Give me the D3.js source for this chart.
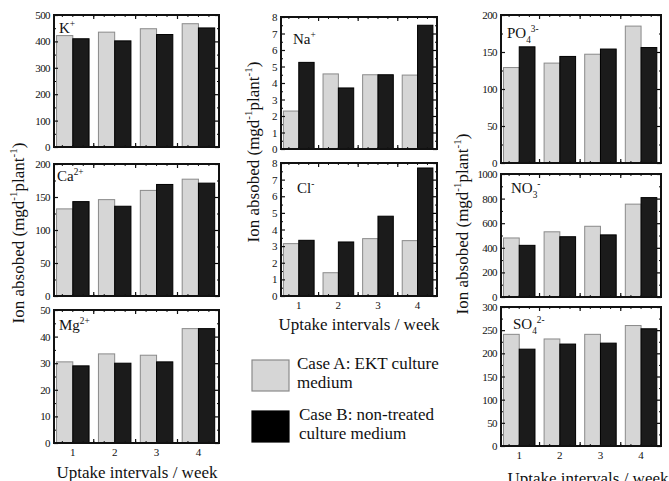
<!DOCTYPE html>
<html><head><meta charset="utf-8">
<script src="https://cdn.jsdelivr.net/npm/d3@7"></script>
<style>body{margin:0;background:#fff}svg{display:block}text{font-family:"Liberation Serif","Times New Roman",serif !important;fill:#111}</style>
</head><body>
<script>
const categories = ["1","2","3","4"];
const kA = [422, 435, 448, 467], kB = [410, 402, 426, 451];
const caA = [132, 146, 160, 177], caB = [143, 136, 169, 171];
const mgA = [30.5, 33.5, 33, 43], mgB = [29, 30, 30.5, 43];
const naA = [2.3, 4.55, 4.5, 4.48], naB = [5.25, 3.7, 4.5, 7.5];
const clA = [3.15, 1.4, 3.45, 3.33], clB = [3.35, 3.25, 4.8, 7.7];
const po4A = [129, 135, 147, 185], po4B = [157, 144, 154, 156];
const no3A = [480, 530, 575, 755], no3B = [420, 490, 505, 808];
const so4A = [241, 231, 241, 260], so4B = [209, 220, 222, 253];
const kTicks = [0,100,200,300,400,500];
const caTicks = [0,50,100,150,200];
const mgTicks = [0,10,20,30,40,50];
const naTicks = [0,1,2,3,4,5,6,7,8];
const po4Ticks = [0,50,100,150,200];
const no3Ticks = [0,200,400,600,800,1000];
const so4Ticks = [0,50,100,150,200,250,300];
const legendLabels = [["Case A: EKT culture","medium"],["Case B: non-treated","culture medium"]];
const xTitle = "Uptake intervals / week";

const W = 669, H = 481;
const svg = d3.select("body").append("svg").attr("width", W).attr("height", H);
svg.append("rect").attr("width", W).attr("height", H).attr("fill", "#fff");
const colA = "#d6d6d6", strokeA = "#8a8a8a", colB = "#1b1b1b";

function richText(sel, parts, size) {
  parts.forEach(([t, ty]) => {
    const ts = sel.append("tspan").text(t);
    if (ty === "sup") ts.attr("font-size", size * 0.62).attr("dy", -size * 0.38);
    else if (ty === "sub") ts.attr("font-size", size * 0.62).attr("dy", size * 0.3);
    else if (ty === "supAfterSub") ts.attr("font-size", size * 0.62).attr("dy", -size * 0.68);
  });
}

function panel(cfg) {
  const {x0, x1, y0, y1, A, B, max, ticks, minor, label, lx, ly, showX, xly} = cfg;
  const g = svg.append("g");
  const x = d3.scaleBand().domain(categories).range([x0, x1]).paddingInner(0.2).paddingOuter(0.07).align(0.35);
  const y = d3.scaleLinear().domain([0, max]).range([y1, y0]);
  const bw = x.bandwidth() / 2;
  g.selectAll(".a").data(A).join("rect")
    .attr("x", (d, i) => x(categories[i]) + 0.5).attr("y", d => y(d))
    .attr("width", bw - 0.5).attr("height", d => y(0) - y(d))
    .attr("fill", colA).attr("stroke", strokeA).attr("stroke-width", 1);
  g.selectAll(".b").data(B).join("rect")
    .attr("x", (d, i) => x(categories[i]) + bw).attr("y", d => y(d))
    .attr("width", bw - 0.5).attr("height", d => y(0) - y(d))
    .attr("fill", colB).attr("stroke", "#000").attr("stroke-width", 1);
  const minorVals = [];
  for (let i = 0; i < ticks.length - 1; i++) {
    const step = (ticks[i+1] - ticks[i]) / minor;
    for (let k = 1; k < minor; k++) minorVals.push(ticks[i] + k * step);
  }
  const yl = d3.axisLeft(y).tickValues(ticks).tickSize(-4).tickPadding(4).tickFormat(d3.format("d"));
  const ga = g.append("g").attr("transform", `translate(${x0},0)`).call(yl);
  ga.attr("font-family", null);
  ga.select(".domain").remove();
  ga.selectAll("text").attr("font-size", 11).attr("letter-spacing", -0.6);
  ga.selectAll("line").attr("stroke", "#111").attr("stroke-width", 1.2);
  const gm = g.append("g").attr("transform", `translate(${x0},0)`).call(d3.axisLeft(y).tickValues(minorVals).tickSize(-2).tickFormat(""));
  gm.select(".domain").remove();
  const gr = g.append("g").attr("transform", `translate(${x1},0)`).call(d3.axisRight(y).tickValues(ticks).tickSize(-4).tickFormat(""));
  gr.select(".domain").remove();
  gr.selectAll("line").attr("stroke-width", 1.2);
  const grm = g.append("g").attr("transform", `translate(${x1},0)`).call(d3.axisRight(y).tickValues(minorVals).tickSize(-2).tickFormat(""));
  grm.select(".domain").remove();
  const step = x.step();
  const bounds = categories.slice(1).map(c => x(c) - (x.step() - x.bandwidth()) / 2);
  const minorX = [];
  for (let v = x(categories[0]) - (step - x.bandwidth()) / 2 + step / 4; v < x1 - 2; v += step / 4) minorX.push(v);
  [y0, y1].forEach((yy, j) => {
    const dir = j === 0 ? 1 : -1;
    minorX.forEach(v => g.append("line").attr("x1", v).attr("x2", v).attr("y1", yy).attr("y2", yy + dir * 2).attr("stroke", "#111"));
    bounds.forEach(v => g.append("line").attr("x1", v).attr("x2", v).attr("y1", yy).attr("y2", yy + dir * 4).attr("stroke", "#111").attr("stroke-width", 1.2));
  });
  g.append("rect").attr("x", x0).attr("y", y0).attr("width", x1 - x0).attr("height", y1 - y0)
    .attr("fill", "none").attr("stroke", "#111").attr("stroke-width", 2);
  if (showX) {
    categories.forEach(c => g.append("text").attr("x", x(c) + x.bandwidth() / 2).attr("y", xly)
      .attr("text-anchor", "middle").attr("font-size", 11).text(c));
  }
  const t = g.append("text").attr("x", lx).attr("y", ly).attr("font-size", 15);
  richText(t, label, 15);
}

const L = {x0: 54, x1: 219}, M = {x0: 281, x1: 437}, R = {x0: 501, x1: 661};
panel({...L, y0: 15, y1: 147, A: kA, B: kB, max: 500, ticks: kTicks, minor: 2, label: [["K"],["+","sup"]], lx: 59, ly: 33});
panel({...L, y0: 164, y1: 296, A: caA, B: caB, max: 200, ticks: caTicks, minor: 2, label: [["Ca"],["2+","sup"]], lx: 57, ly: 181});
panel({...L, y0: 310, y1: 443, A: mgA, B: mgB, max: 50, ticks: mgTicks, minor: 2, label: [["Mg"],["2+","sup"]], lx: 59, ly: 330, showX: true, xly: 456});
panel({...M, y0: 17, y1: 149, A: naA, B: naB, max: 8, ticks: naTicks, minor: 2, label: [["Na"],["+","sup"]], lx: 293, ly: 44});
panel({...M, y0: 163, y1: 296, A: clA, B: clB, max: 8, ticks: naTicks, minor: 2, label: [["Cl"],["-","sup"]], lx: 297, ly: 193, showX: true, xly: 309});
panel({...R, y0: 15, y1: 163, A: po4A, B: po4B, max: 200, ticks: po4Ticks, minor: 2, label: [["PO"],["4","sub"],["3-","supAfterSub"]], lx: 507, ly: 38});
panel({...R, y0: 174, y1: 297, A: no3A, B: no3B, max: 1000, ticks: no3Ticks, minor: 2, label: [["NO"],["3","sub"],["-","supAfterSub"]], lx: 511, ly: 193});
panel({...R, y0: 307, y1: 446, A: so4A, B: so4B, max: 300, ticks: so4Ticks, minor: 2, label: [["SO"],["4","sub"],["2-","supAfterSub"]], lx: 513, ly: 329, showX: true, xly: 459});

[[137, 478], [359, 330], [588, 484]].forEach(([cx, cy]) =>
  svg.append("text").attr("x", cx).attr("y", cy).attr("text-anchor", "middle").attr("font-size", 17).text(xTitle));

[[24, 233], [259, 152], [468, 224]].forEach(([cx, cy]) => {
  const t = svg.append("text").attr("transform", `translate(${cx},${cy}) rotate(-90)`).attr("text-anchor", "middle").attr("font-size", 17);
  t.append("tspan").text("Ion absobed (mgd");
  t.append("tspan").text("-1").attr("font-size", 11).attr("dy", -7);
  t.append("tspan").text("plant").attr("dy", 7);
  t.append("tspan").text("-1").attr("font-size", 11).attr("dy", -7);
  t.append("tspan").text(")").attr("dy", 7);
});

const lg = [[360, colA, strokeA], [411, "#000", "#000"]];
lg.forEach(([yy, f, s], i) => {
  svg.append("rect").attr("x", 252).attr("y", yy).attr("width", 37).attr("height", 31).attr("fill", f).attr("stroke", s).attr("stroke-width", 1.2);
  legendLabels[i].forEach((ln, j) => svg.append("text").attr("x", i === 0 ? 297 : 299).attr("y", yy + 9 + j * 19)
    .attr("font-size", 17).text(ln));
});
</script>
</body></html>
